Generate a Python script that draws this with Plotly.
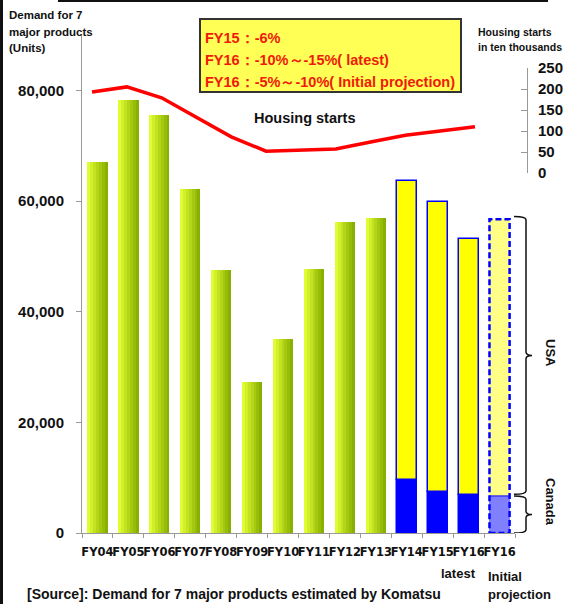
import plotly.graph_objects as go

# ---------------- data ----------------
fiscal_years = ["FY04", "FY05", "FY06", "FY07", "FY08", "FY09", "FY10",
                "FY11", "FY12", "FY13", "FY14", "FY15", "FY16", "FY16"]
green_demand = [67000, 78200, 75500, 62100, 47500, 27300, 35000, 47700, 56200, 56900]  # FY04-FY13
usa_demand = [54000, 52400, 46200]      # FY14, FY15, FY16 latest
canada_demand = [9600, 7400, 6900]      # FY14, FY15, FY16 latest
usa_initial = [50000]                   # FY16 initial projection
canada_initial = [6700]
housing_years = ["FY04", "FY05", "FY06", "FY07", "FY08", "FY09", "FY10",
                 "FY11", "FY12", "FY13", "FY14", "FY15"]
housing_starts = [193, 205, 179, 132, 86, 52, 55, 57, 74, 90, 100, 110]  # ten thousands
left_ticks = [0, 20000, 40000, 60000, 80000]
left_ticktext = ["0", "20,000", "40,000", "60,000", "80,000"]
right_ticks = [0, 50, 100, 150, 200, 250]

# ---------------- geometry helpers (layout only) ----------------
W, H = 563, 604
L, R, T, B = 82, 527, 35, 533


def px(x):
    return (x - L) / (R - L)


def py(y):
    return (B - y) / (B - T)


BOLD = "Liberation Sans"
idx = list(range(len(fiscal_years)))
green_idx = idx[:len(green_demand)]
na_idx = idx[len(green_demand):len(green_demand) + len(usa_demand)]
init_idx = idx[len(green_demand) + len(usa_demand):]
bw = 0.65

fig = go.Figure()

# green bars with a left-to-right gradient made of strips
n = 7
c0 = (224, 252, 50)
c1 = (136, 176, 0)
for k in range(n):
    t = k / (n - 1)
    col = "rgb(%d,%d,%d)" % tuple(round(a + (b - a) * t) for a, b in zip(c0, c1))
    fig.add_trace(go.Bar(x=green_idx, y=green_demand, width=bw / n + 0.002,
                         offset=-bw / 2 + k * bw / n, marker=dict(color=col, line_width=0),
                         hoverinfo="skip"))

# North America split (actual)
fig.add_trace(go.Bar(x=na_idx, y=canada_demand, width=bw,
                     marker=dict(color="#0000ff", line=dict(color="#0000ff", width=1.5))))
fig.add_trace(go.Bar(x=na_idx, y=usa_demand, base=canada_demand, width=bw,
                     marker=dict(color="#ffff00", line=dict(color="#0000ff", width=1.5))))
# initial projection
fig.add_trace(go.Bar(x=init_idx, y=canada_initial, width=bw,
                     marker=dict(color="#8080ff", line_width=0)))
fig.add_trace(go.Bar(x=init_idx, y=usa_initial, base=canada_initial, width=bw,
                     marker=dict(color="#ffff88", line_width=0)))
tot_init = [u + c for u, c in zip(usa_initial, canada_initial)]
for i, tot, c in zip(init_idx, tot_init, canada_initial):
    fig.add_trace(go.Scatter(x=[i - bw / 2, i + bw / 2, i + bw / 2, i - bw / 2, i - bw / 2],
                             y=[0, 0, tot, tot, 0], mode="lines",
                             line=dict(color="#0000ff", width=2.5, dash="6px,3px"), hoverinfo="skip"))
    fig.add_trace(go.Scatter(x=[i - bw / 2, i + bw / 2], y=[c, c], mode="lines",
                             line=dict(color="#0000ff", width=1), hoverinfo="skip"))

# housing starts line
fig.add_trace(go.Scatter(x=list(range(len(housing_starts))), y=housing_starts,
                         xaxis="x2", yaxis="y2", mode="lines",
                         line=dict(color="#ff0000", width=3.5), hoverinfo="skip"))

# x2 range so that housing points land at their own spacing
x2_first, x2_step = 92, 34.82
x2r0 = -(x2_first - L) / x2_step
x2r1 = x2r0 + (R - L) / x2_step

fig.update_layout(
    width=W, height=H, margin=dict(l=L, r=W - R, t=T, b=H - B, autoexpand=False),
    paper_bgcolor="white", plot_bgcolor="rgba(0,0,0,0)", showlegend=False,
    barmode="overlay", bargap=0,
    xaxis=dict(domain=[0, px(515)], range=[-0.5, len(idx) - 0.5], tickmode="array",
               tickvals=idx, ticktext=fiscal_years, tickangle=0, ticks="",
               ticklabelstandoff=8, automargin=False,
               tickfont=dict(family="DejaVu Sans", size=11.5, color="#111", weight="bold"),
               showline=True, linecolor="#999", linewidth=1, showgrid=False, zeroline=False,
               minor=dict(tickmode="array", tickvals=[i - 0.5 for i in range(len(idx) + 1)],
                          ticks="outside", ticklen=4, tickcolor="#999", showgrid=False)),
    yaxis=dict(range=[0, 90000], tickmode="array", tickvals=left_ticks, ticktext=left_ticktext,
               ticks="outside", ticklen=5, tickcolor="#999", showline=True, linecolor="#999",
               showgrid=False, zeroline=False, ticklabelstandoff=9, automargin=False,
               tickfont=dict(family=BOLD, size=15, color="#111", weight="bold")),
    xaxis2=dict(domain=[0, 1], anchor="y2", range=[x2r0, x2r1], visible=False),
    yaxis2=dict(domain=[py(173), py(68)], range=[0, 250], anchor="free", position=1,
                side="right", tickmode="array", tickvals=right_ticks, ticks="inside",
                ticklen=6, tickcolor="#999", showline=True, linecolor="#999",
                showgrid=False, zeroline=False, ticklabelstandoff=7, automargin=False,
                tickfont=dict(family=BOLD, size=15, color="#111", weight="bold")),
)

ann = []


def text(x, y, s, size, color="#111", xanchor="left", angle=0, family=BOLD):
    ann.append(dict(x=px(x), y=py(y), xref="paper", yref="paper", text=s, showarrow=False,
                    xanchor=xanchor, yanchor="middle", textangle=angle,
                    font=dict(family=family, size=size, color=color, weight="bold")))


text(7, 15, "Demand for 7", 11.5)
text(7, 32, "major products", 11.5)
text(7, 48, "(Units)", 11.5)
text(476, 32, "Housing starts", 10.5)
text(476, 47, "in ten thousands", 10.5)
text(305, 118, "Housing starts", 14.5, xanchor="center")
RED = "#f01a0a"
text(203, 38, "FY15：-6%", 14.5, RED)
text(203, 60, "FY16：-10%～-15%( latest)", 14.5, RED)
text(203, 82, "FY16：-5%～-10%( Initial projection)", 14.5, RED)
text(458, 573, "latest", 13, xanchor="center")
text(486, 576, "Initial", 13)
text(486, 594, "projection", 13)
text(551, 353, "USA", 13, xanchor="center", angle=90)
text(551, 502, "Canada", 13, xanchor="center", angle=90)
text(25, 594, "[Source]: Demand for 7 major products estimated by Komatsu", 14)
fig.update_layout(annotations=ann)

shapes = [
    dict(type="rect", xref="paper", yref="paper", x0=px(200), x1=px(461), y0=py(92), y1=py(19),
         fillcolor="#ffff55", line=dict(color="#333", width=2), layer="below"),
    dict(type="line", xref="paper", yref="paper", x0=px(1.5), x1=px(1.5), y0=py(0), y1=py(H),
         line=dict(color="#111", width=3)),
    dict(type="line", xref="paper", yref="paper", x0=px(58), x1=px(548), y0=py(1), y1=py(1),
         line=dict(color="#111", width=2)),
]


def brace(y0, y1):
    xa, xb, xc = px(514), px(526), px(532)
    d = 600
    ym = (y0 + y1) / 2
    path = (f"M {xa},{y1} Q {xb},{y1} {xb},{y1 - d} L {xb},{ym + d} Q {xb},{ym} {xc},{ym} "
            f"Q {xb},{ym} {xb},{ym - d} L {xb},{y0 + d} Q {xb},{y0} {xa},{y0}")
    return dict(type="path", xref="paper", yref="y", path=path,
                line=dict(color="#111", width=1.5))


shapes.append(brace(canada_initial[0] + 300, tot_init[0] + 500))
shapes.append(brace(0, canada_initial[0]))
fig.update_layout(shapes=shapes)

fig.write_html("out.html")
